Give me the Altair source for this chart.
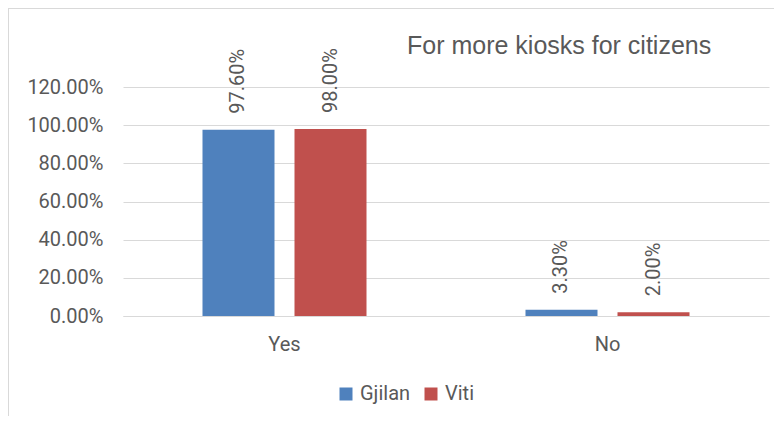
import altair as alt
import pandas as pd

categories = ["Yes", "No"]
cities = ["Gjilan", "Viti"]
gjilan = [0.976, 0.033]
viti = [0.98, 0.02]
y_ticks = [0, 0.2, 0.4, 0.6, 0.8, 1.0, 1.2]
title_text = "For more kiosks for citizens"
colors = ["#4F81BD", "#C0504D"]

rows = []
for i, c in enumerate(categories):
    rows.append({"answer": c, "city": cities[0], "value": gjilan[i]})
    rows.append({"answer": c, "city": cities[1], "value": viti[i]})
df = pd.DataFrame(rows)

W, H = 646, 229
PL, PT = 115, 79
TXT = "#595959"
GRID = "#D9D9D9"
FONT = "Roboto"

base = alt.Chart(df).encode(
    x=alt.X("answer:N", sort=categories,
            scale=alt.Scale(paddingInner=0, paddingOuter=0),
            axis=alt.Axis(title=None, labelAngle=0, ticks=False, domainColor=GRID,
                          domainWidth=1, labelPadding=18, labelFont=FONT,
                          labelFontSize=20, labelColor=TXT, grid=False)),
    xOffset=alt.XOffset("city:N", sort=cities,
                        scale=alt.Scale(paddingInner=0.2174, paddingOuter=0.864)),
    y=alt.Y("value:Q", scale=alt.Scale(domain=[0, 1.2], nice=False),
            axis=alt.Axis(title=None, values=y_ticks, format=".2%", grid=True,
                          gridColor=GRID, domain=False, ticks=False, labelPadding=20,
                          labelFont=FONT, labelFontSize=20, labelColor=TXT)),
)

bars = base.mark_bar().encode(
    color=alt.Color("city:N", sort=cities,
                    scale=alt.Scale(domain=cities, range=colors),
                    legend=alt.Legend(title=None, orient="none", legendX=213, legendY=297,
                                      direction="horizontal", symbolType="square",
                                      symbolSize=169, symbolStrokeWidth=0,
                                      labelFont=FONT, labelFontSize=20, labelColor=TXT,
                                      columnPadding=10, labelOffset=4))
)

labels = base.mark_text(angle=270, align="left", baseline="middle", dx=16,
                        font=FONT, fontSize=20, color=TXT).encode(
    text=alt.Text("value:Q", format=".2%")
)

title = alt.Chart(pd.DataFrame({"t": [title_text]})).mark_text(
    align="left", baseline="alphabetic", font="Liberation Sans", fontSize=25, color=TXT
).encode(x=alt.value(284), y=alt.value(-33), text="t:N")

one = pd.DataFrame({"a": [0]})
left_border = alt.Chart(one).mark_rule(color=GRID, strokeWidth=1).encode(
    x=alt.value(-PL + 0.5), y=alt.value(-PT), y2=alt.value(H + 110))
top_border = alt.Chart(one).mark_rule(color=GRID, strokeWidth=1).encode(
    x=alt.value(-PL), x2=alt.value(W + 20), y=alt.value(-PT + 0.5))

chart = alt.layer(left_border, top_border, bars, labels, title).properties(
    width=W, height=H,
    autosize=alt.AutoSizeParams(type="none"),
    padding={"left": PL, "top": PT, "right": 5, "bottom": 100},
).configure_view(strokeWidth=0)

chart.save("out.html", embed_options={"renderer": "svg", "actions": False})
